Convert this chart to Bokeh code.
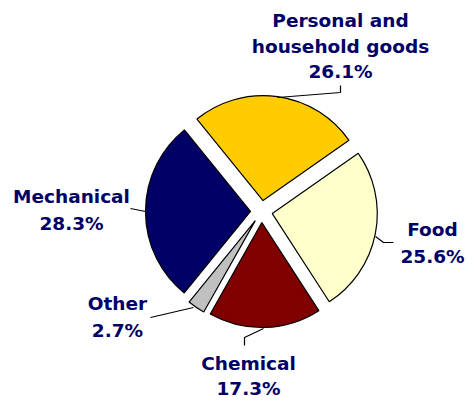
import math
from bokeh.plotting import figure
from bokeh.models import Range1d, ColumnDataSource
from bokeh.core.properties import value
from bokeh.embed import file_html
from bokeh.resources import INLINE

categories = ["Personal and household goods", "Food", "Chemical", "Other", "Mechanical"]
shares = [26.1, 25.6, 17.3, 2.7, 28.3]
colors = ["#FFCC00", "#FFFFCC", "#800000", "#C0C0C0", "#000066"]
label_lines = [["Personal and", "household goods"], ["Food"], ["Chemical"], ["Other"], ["Mechanical"]]

W, H = 472, 400
p = figure(width=W, height=H, output_backend="svg", toolbar_location=None,
           x_range=Range1d(0, W), y_range=Range1d(0, H), min_border=0)
p.axis.visible = False
p.grid.visible = False
p.outline_line_color = None
p.background_fill_color = "white"

cx, cy, R, explode = 261, 189, 105, 11
start_deg = 129.0
total = sum(shares)
starts, ends, xs, ys = [], [], [], []
acc = 0.0
for s in shares:
    a0 = math.radians(start_deg - acc / total * 360)
    acc += s
    a1 = math.radians(start_deg - acc / total * 360)
    mid = (a0 + a1) / 2
    starts.append(a1)
    ends.append(a0)
    xs.append(cx + explode * math.cos(mid))
    ys.append(cy + explode * math.sin(mid))

src = ColumnDataSource(dict(x=xs, y=ys, start=starts, end=ends, color=colors))
p.wedge(x="x", y="y", radius=R, start_angle="start", end_angle="end", direction="anticlock",
        fill_color="color", line_color="black", line_width=1.2, source=src)

# leader lines
leaders = [
    ([340, 340, 277], [315, 308, 303]),
    ([375, 383, 393], [164, 158, 158]),
    ([263, 244, 244], [72, 63, 55]),
    ([193, 150], [93, 83]),
    ([145, 130], [189, 192]),
]
for lx, ly in leaders:
    p.line(lx, ly, line_color="black", line_width=1.2)

# labels: anchor (x centre, first baseline y), line spacing
anchors = [(340, 380, 25.5), (432, 171, 27), (248, 37, 25), (117, 97, 27), (71, 204, 27)]
tx, ty, tt = [], [], []
for (ax, ay, sp), lines, s in zip(anchors, label_lines, shares):
    all_lines = lines + [f"{s:.1f}%"]
    for i, t in enumerate(all_lines):
        tx.append(ax)
        ty.append(ay - i * sp)
        tt.append(t)

p.text(x=tx, y=ty, text=tt, text_font=value("DejaVu Sans"), text_font_style="bold",
       text_font_size="18.5px", text_color="#000066", text_align="center",
       text_baseline="alphabetic")

open("out.html", "w").write(file_html(p, INLINE))
